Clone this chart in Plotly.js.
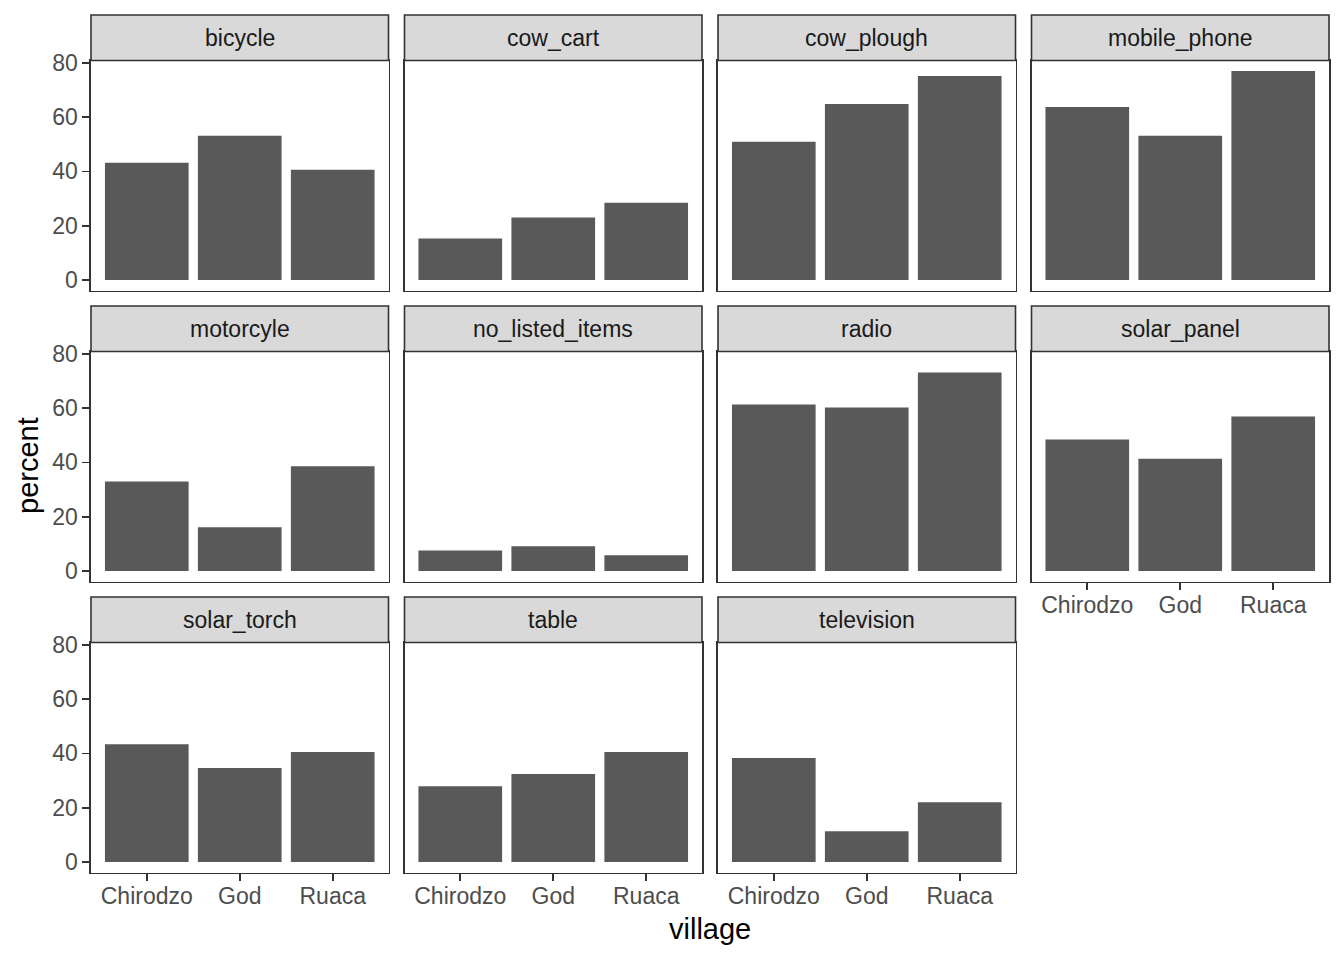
<!DOCTYPE html>
<html>
<head>
<meta charset="utf-8">
<script src="https://cdn.plot.ly/plotly-3.0.1.min.js"></script>
<style>
  html, body { margin: 0; padding: 0; background: #fff; }
  #chart { width: 1344px; height: 960px; }
</style>
</head>
<body>
<div id="chart"></div>
<script>
const villages = ['Chirodzo', 'God', 'Ruaca'];
const items = ['bicycle', 'cow_cart', 'cow_plough', 'mobile_phone', 'motorcyle', 'no_listed_items',
               'radio', 'solar_panel', 'solar_torch', 'table', 'television'];
// percent of households per village, same order as items
const chirodzo = [43.2, 15.3, 50.9, 63.7, 33.0, 7.6, 61.3, 48.4, 43.4, 27.9, 38.3];
const god      = [53.1, 23.0, 64.8, 53.1, 16.1, 9.1, 60.2, 41.4, 34.6, 32.4, 11.3];
const ruaca    = [40.6, 28.5, 75.1, 77.0, 38.6, 5.8, 73.1, 56.9, 40.5, 40.5, 22.0];
const yTicks = [0, 20, 40, 60, 80];

const W = 1344, H = 960;
const colLeft = [91, 404.5, 718, 1031.5];
const panelW = 297.5;
const rowTop = [15, 306, 597];   // strip top
const stripH = 45.5;
const panelH = 230;
const ncol = 4;

// ggplot style 5% expansion of the shared y scale
const ymax = Math.max(...chirodzo, ...god, ...ruaca);
const yRange = [-0.05 * ymax, 1.05 * ymax];

const border = '#333333';
const tickFont = { family: 'Liberation Sans, Arial, sans-serif', size: 23, color: '#4D4D4D' };

const traces = [];
const layout = {
  width: W, height: H,
  margin: { l: 0, r: 0, t: 0, b: 0 },
  paper_bgcolor: '#ffffff',
  plot_bgcolor: '#ffffff',
  showlegend: false,
  bargap: 0.1,
  shapes: [],
  annotations: []
};

items.forEach((item, i) => {
  const r = Math.floor(i / ncol), c = i % ncol;
  const n = i === 0 ? '' : String(i + 1);
  const x0 = colLeft[c], x1 = x0 + panelW;
  const sTop = rowTop[r], pTop = sTop + stripH, pBot = pTop + panelH;
  // bottom panel in its column gets the x labels
  const lastInCol = i + ncol >= items.length;

  traces.push({
    type: 'bar',
    x: villages,
    y: [chirodzo[i], god[i], ruaca[i]],
    xaxis: 'x' + n,
    yaxis: 'y' + n,
    marker: { color: '#595959', line: { width: 0 } },
    hoverinfo: 'none'
  });

  layout['xaxis' + n] = {
    domain: [x0 / W, x1 / W],
    anchor: 'y' + n,
    type: 'category',
    categoryarray: villages,
    range: [-0.6, 2.6],
    showgrid: false, zeroline: false,
    showline: true, mirror: true, linecolor: border, linewidth: 1.6,
    ticks: lastInCol ? 'outside' : '',
    ticklen: 7, tickwidth: 1.8, tickcolor: border,
    showticklabels: lastInCol,
    ticklabelstandoff: -5,
    tickfont: tickFont,
    fixedrange: true
  };
  layout['yaxis' + n] = {
    domain: [1 - pBot / H, 1 - pTop / H],
    anchor: 'x' + n,
    range: yRange,
    tickvals: yTicks,
    showgrid: false, zeroline: false,
    showline: true, mirror: true, linecolor: border, linewidth: 1.6,
    ticks: c === 0 ? 'outside' : '',
    ticklen: 7, tickwidth: 1.8, tickcolor: border,
    showticklabels: c === 0,
    tickfont: tickFont,
    fixedrange: true
  };

  // facet strip
  layout.shapes.push({
    type: 'rect', xref: 'paper', yref: 'paper',
    x0: x0 / W, x1: x1 / W, y0: 1 - pTop / H, y1: 1 - sTop / H,
    fillcolor: '#D9D9D9', line: { color: border, width: 1.6 }, layer: 'above'
  });
  layout.annotations.push({
    xref: 'paper', yref: 'paper',
    x: (x0 + x1) / 2 / W, y: 1 - (sTop + stripH / 2) / H,
    text: item, showarrow: false,
    xanchor: 'center', yanchor: 'middle',
    font: { family: 'Liberation Sans, Arial, sans-serif', size: 23, color: '#1A1A1A' }
  });
});

// axis titles
layout.annotations.push({
  xref: 'paper', yref: 'paper', x: 28 / W, y: 1 - 466 / H,
  text: 'percent', textangle: -90, showarrow: false,
  xanchor: 'center', yanchor: 'middle',
  font: { family: 'Liberation Sans, Arial, sans-serif', size: 29, color: '#000000' }
});
layout.annotations.push({
  xref: 'paper', yref: 'paper', x: 710 / W, y: 1 - 929 / H,
  text: 'village', showarrow: false,
  xanchor: 'center', yanchor: 'middle',
  font: { family: 'Liberation Sans, Arial, sans-serif', size: 29, color: '#000000' }
});

Plotly.newPlot('chart', traces, layout, { staticPlot: true, displayModeBar: false });
</script>
</body>
</html>
